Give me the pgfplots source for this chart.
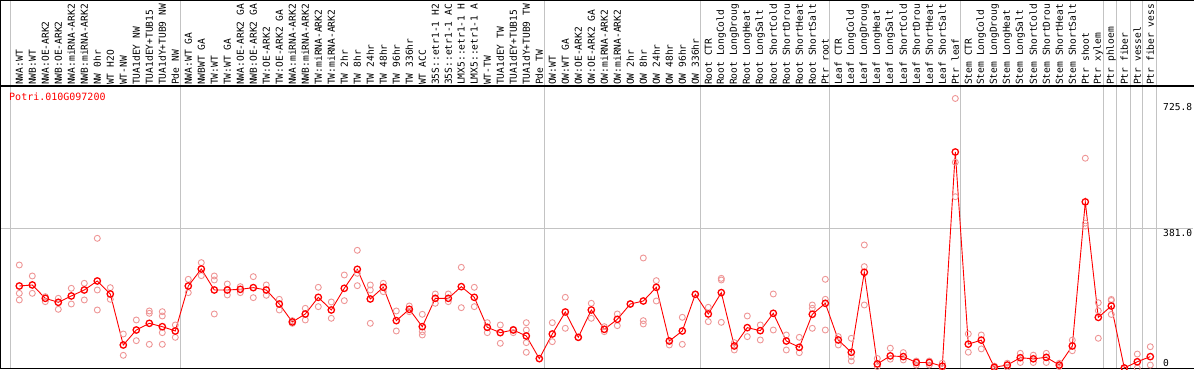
\documentclass[border=0pt]{standalone}
\usepackage{pgfplots}
\pgfplotsset{compat=1.18}
\usepackage{fontspec}
\newfontfamily\labfont{DejaVu Sans Mono}
\definecolor{meanred}{RGB}{255,0,0}
\definecolor{reppink}{RGB}{238,150,150}
\definecolor{sepgray}{RGB}{195,195,195}
\begin{document}
\begin{tikzpicture}
\begin{axis}[
  name=ax,
  at={(0,0)}, anchor=south west,
  scale only axis,
  width=1192pt, height=283pt,
  xmin=-1.4077, xmax=90.285,
  ymin=-2.727, ymax=769.0,
  axis line style={draw=none},
  clip=false,
  xtick={0,...,87},
  xticklabels={{NWA:WT},{NWB:WT},{NWA:OE-ARK2},{NWB:OE-ARK2},{NWA:miRNA-ARK2},{NWB:miRNA-ARK2},{NW 0hr},{WT H2O},{WT-NW},{TUA1dEY NW},{TUA1dEY+TUB15},{TUA1dY+TUB9 NW},{Pde NW},
  {NWA:WT GA},{NWBWT GA},{TW:WT},{TW:WT GA},{NWA:OE-ARK2 GA},{NWB:OE-ARK2 GA},{TW:OE-ARK2},{TW:OE-ARK2 GA},{NWA:miRNA-ARK2},{NWB:miRNA-ARK2},{TW:miRNA-ARK2},{TW:miRNA-ARK2},{TW 2hr},{TW 8hr},{TW 24hr},{TW 48hr},{TW 96hr},{TW 336hr},{WT ACC},{35S::etr1-1 H2},{35S::etr1-1 AC},{LMX5::etr1-1 H},{LMX5::etr1-1 A},{WT-TW},{TUA1dEY TW},{TUA1dEY+TUB15},{TUA1dY+TUB9 TW},{Pde TW},
  {OW:WT},{OW:WT GA},{OW:OE-ARK2},{OW:OE-ARK2 GA},{OW:miRNA-ARK2},{OW:miRNA-ARK2},{OW 2hr},{OW 8hr},{OW 24hr},{OW 48hr},{OW 96hr},{OW 336hr},
  {Root CTR},{Root LongCold},{Root LongDroug},{Root LongHeat},{Root LongSalt},{Root ShortCold},{Root ShortDrou},{Root ShortHeat},{Root ShortSalt},{Ptr root},
  {Leaf CTR},{Leaf LongCold},{Leaf LongDroug},{Leaf LongHeat},{Leaf LongSalt},{Leaf ShortCold},{Leaf ShortDrou},{Leaf ShortHeat},{Leaf ShortSalt},{Ptr leaf},
  {Stem CTR},{Stem LongCold},{Stem LongDroug},{Stem LongHeat},{Stem LongSalt},{Stem ShortCold},{Stem ShortDrou},{Stem ShortHeat},{Stem ShortSalt},{Ptr shoot},{Ptr xylem},{Ptr phloem},{Ptr fiber},{Ptr vessel},{Ptr fiber vess}},
  xticklabel pos=upper,
  major tick length=0pt,
  xticklabel style={rotate=90, anchor=west, font=\labfont\fontsize{9.6}{10}\selectfont, inner sep=1pt},
  ytick=\empty,
]
% separators
\pgfplotsinvokeforeach{-0.715,12.385,40.385,52.36,62.34,72.42,83.38,84.42,85.44,86.42,87.44}{
  \draw[sepgray, line width=0.9pt] (axis cs:#1,-2.727) -- (axis cs:#1,1003.5);
}
\draw[sepgray, line width=0.9pt] (axis cs:-1.4077,381) -- (axis cs:90.285,381);
% frame
\draw[black, line width=1pt] (axis cs:-1.4077,1002.2) -- (axis cs:-1.4077,-2.727) -- (axis cs:90.4,-2.727);
\draw[black, line width=1pt] (axis cs:-1.4077,1002.2) -- (axis cs:90.4,1002.2);
\draw[black, line width=1.2pt] (axis cs:-1.4077,769) -- (axis cs:90.4,769);
% texts
\node[anchor=west, text=meanred, font=\labfont\fontsize{10}{11}\selectfont, inner sep=0pt] at (axis cs:-0.79,739) {Potri.010G097200};
\node[anchor=north west, font=\labfont\fontsize{9.6}{10}\selectfont, inner sep=0pt] at (axis cs:87.98,722.7) {725.8};
\node[anchor=north west, font=\labfont\fontsize{9.6}{10}\selectfont, inner sep=0pt] at (axis cs:87.98,379) {381.0};
\node[anchor=north west, font=\labfont\fontsize{9.6}{10}\selectfont, inner sep=0pt] at (axis cs:87.98,24.5) {0};
% replicates
\addplot[only marks, mark=o, mark size=3pt, reppink, line width=0.9pt] coordinates {
(0,280.9)(0,203.6)(0,185.5)
(1,250.9)(1,203.6)
(2,194.5)(2,180.9)
(3,190)(3,160)
(4,217.3)(4,174.5)
(5,230.9)(5,185.5)
(6,353.6)(6,212.7)(6,158.2)
(7,219.1)(7,187.3)
(8,92.7)(8,34.5)
(9,130.9)(9,74.5)
(10,155.5)(10,149.1)(10,64.5)
(11,153.6)(11,141.8)(11,96.4)(11,64.5)
(12,117.3)(12,83.6)
(13,241.8)(13,205.5)
(14,287.3)(14,251.8)
(15,250.9)(15,240)(15,147.3)
(16,229.1)(16,199.1)
(17,221.8)(17,205.5)
(18,249.1)(18,191.8)
(19,226.4)(19,198.2)
(20,187.3)(20,158.2)
(21,129.1)(21,121.8)
(22,162.7)(22,130.9)
(23,220)(23,167.3)
(24,180)(24,135.5)
(25,253.6)(25,183.6)
(26,320.9)(26,258.2)(26,224.5)
(27,226.4)(27,212.7)(27,121.8)
(28,230.9)(28,208.2)
(29,155.5)(29,100.9)
(30,169.1)(30,153.6)
(31,146.4)(31,99.1)(31,90)
(32,201.8)(32,176.4)
(33,201.8)(33,180.9)
(34,274.5)(34,164.5)
(35,220)(35,167.3)
(36,123.6)(36,96.4)
(37,117.3)(37,67.3)
(38,105.5)(38,96.4)
(39,123.6)(39,103.6)(39,69.1)(39,42.7)
(40,25.5)
(41,123.6)(41,71.8)
(42,192.7)(42,108.2)
(43,83.6)
(44,176.4)(44,135.5)
(45,112.7)(45,99.1)
(46,147.3)(46,115.5)
(47,174.5)
(48,300)(48,129.1)(48,120)
(49,238.2)(49,182.7)
(50,62.7)
(51,138.2)(51,64.5)
(52,200.9)
(53,165.5)(53,126.4)
(54,244.5)(54,240)(54,124.5)
(55,69.1)(55,49.1)
(56,141.8)(56,85.5)
(57,117.3)(57,76.4)
(58,201.8)(58,103.6)
(59,90)(59,49.1)
(60,83.6)(60,41.8)
(61,171.8)(61,162.7)(61,108.2)
(62,241.8)(62,187.3)(62,103.6)
(63,85.5)(63,62.7)
(64,80.9)(64,30.9)(64,19.1)
(65,335.5)(65,276.4)(65,171.8)
(66,26)(66,4)
(67,54)(67,24)
(68,42)(68,22)
(69,19)(69,8)
(70,19)(70,8)
(71,13)(71,0)
(72,735)(72,561)(72,467)
(73,93)(73,43)
(74,90)(74,52)
(75,5)(75,0)
(76,13)(76,2)
(77,40)(77,15)
(78,35)(78,15)
(79,40)(79,15)
(80,13)(80,4)
(81,76)(81,47)
(82,572)(82,395)(82,387)
(83,178)(83,156)(83,81)
(84,187)(84,184)(84,146)
(85,0)(85,0)
(86,38)(86,0)
(87,58)(87,8)
};
% means
\addplot[meanred, line width=0.9pt, mark=o, mark size=3.2pt, mark options={line width=1.3pt}] coordinates {
(0,223.6)(1,226.4)(2,190)(3,179.1)(4,196.4)(5,212.7)(6,237.3)(7,201.8)(8,62.7)(9,103.6)
(10,121.8)(11,112.7)(12,100.9)(13,223.6)(14,270)(15,212.7)(16,212.7)(17,214.5)(18,219.1)(19,212.7)
(20,174.5)(21,125.5)(22,147.3)(23,192.7)(24,158.2)(25,217.3)(26,269.1)(27,188.2)(28,220)(29,129.1)
(30,160)(31,112.7)(32,190)(33,190)(34,221.8)(35,192.7)(36,110.9)(37,96.4)(38,103.6)(39,87.3)
(40,25.5)(41,92.7)(42,152.7)(43,83.6)(44,158.2)(45,105.5)(46,132.7)(47,174.5)(48,182.7)(49,220)
(50,73.6)(51,100.9)(52,200.9)(53,147.3)(54,205.5)(55,60)(56,110)(57,101.8)(58,149.1)(59,73.6)
(60,56.4)(61,146.4)(62,176.4)(63,76.4)(64,42.7)(65,260.9)(66,11)(67,33)(68,31)(69,15)
(70,15)(71,5)(72,589)(73,65)(74,76)(75,2)(76,8)(77,28)(78,25)(79,29)
(80,8)(81,60)(82,453)(83,138)(84,169)(85,0)(86,17)(87,31)
};
\end{axis}
\pgfresetboundingbox
\path[use as bounding box] ([shift={(-1pt,-1pt)}]ax.south west) rectangle ([shift={(1pt,86pt)}]ax.north east);
\end{tikzpicture}
\end{document}
